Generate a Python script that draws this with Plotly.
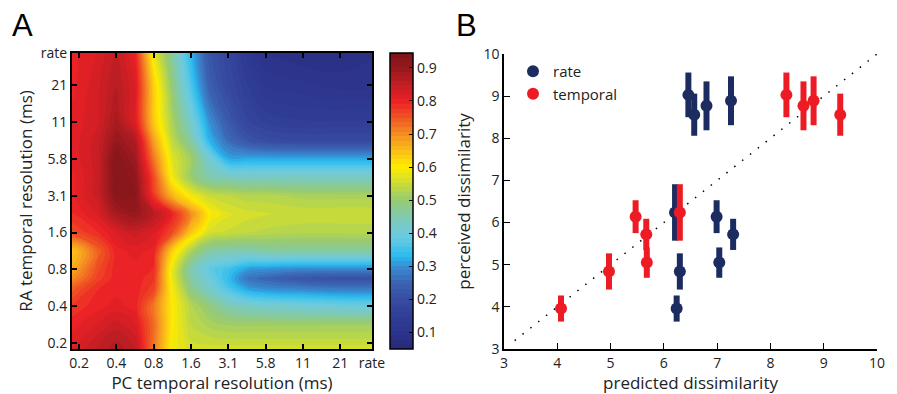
import plotly.graph_objects as go

# ---------------- Panel A data ----------------
res_labels = ['0.2', '0.4', '0.8', '1.6', '3.1', '5.8', '11', '21', 'rate']
res_pos = [0, 1, 2, 3, 4, 5, 6, 7, 7.85]          # tick index positions (x)
res_pos_y = [0, 1, 2, 3, 4, 5, 6, 7, 7.87]        # tick index positions (y)

# grid positions (in tick-index units) where the map was read
pc_grid = [-0.19, 0.5, 1, 1.5, 2, 2.5, 3, 3.5, 4, 4.5, 5, 6, 7, 7.85]
ra_grid = [-0.16, 0.5, 1, 1.5, 1.75, 2, 2.5, 3, 3.5, 4, 4.5, 5, 5.5, 6, 7, 7.87]

# classification performance (rows = RA resolution, bottom -> top)
perf = [
    [0.82, 0.85, 0.87, 0.85, 0.72, 0.59, 0.56, 0.56, 0.56, 0.56, 0.56, 0.56, 0.56, 0.56],
    [0.80, 0.82, 0.84, 0.82, 0.73, 0.60, 0.54, 0.52, 0.51, 0.51, 0.51, 0.51, 0.51, 0.51],
    [0.78, 0.80, 0.81, 0.80, 0.72, 0.60, 0.53, 0.49, 0.45, 0.43, 0.42, 0.41, 0.40, 0.40],
    [0.74, 0.79, 0.80, 0.80, 0.77, 0.59, 0.48, 0.42, 0.36, 0.31, 0.29, 0.28, 0.27, 0.27],
    [0.70, 0.77, 0.80, 0.80, 0.78, 0.58, 0.46, 0.40, 0.34, 0.27, 0.25, 0.22, 0.21, 0.21],
    [0.67, 0.76, 0.80, 0.80, 0.79, 0.58, 0.45, 0.38, 0.35, 0.31, 0.30, 0.29, 0.29, 0.29],
    [0.64, 0.74, 0.80, 0.81, 0.80, 0.63, 0.52, 0.46, 0.45, 0.45, 0.46, 0.46, 0.46, 0.46],
    [0.76, 0.79, 0.82, 0.84, 0.82, 0.76, 0.64, 0.56, 0.55, 0.54, 0.535, 0.53, 0.53, 0.53],
    [0.79, 0.82, 0.88, 0.90, 0.86, 0.80, 0.70, 0.60, 0.57, 0.56, 0.555, 0.55, 0.55, 0.55],
    [0.80, 0.84, 0.92, 0.92, 0.78, 0.66, 0.59, 0.55, 0.54, 0.53, 0.53, 0.52, 0.52, 0.52],
    [0.80, 0.84, 0.93, 0.91, 0.76, 0.59, 0.50, 0.45, 0.44, 0.43, 0.43, 0.43, 0.43, 0.43],
    [0.81, 0.84, 0.93, 0.89, 0.72, 0.57, 0.51, 0.41, 0.32, 0.32, 0.32, 0.32, 0.32, 0.32],
    [0.81, 0.84, 0.90, 0.87, 0.68, 0.54, 0.46, 0.33, 0.26, 0.22, 0.20, 0.19, 0.19, 0.19],
    [0.81, 0.83, 0.88, 0.82, 0.64, 0.52, 0.42, 0.30, 0.23, 0.18, 0.16, 0.15, 0.15, 0.15],
    [0.80, 0.83, 0.86, 0.82, 0.63, 0.49, 0.36, 0.24, 0.19, 0.15, 0.12, 0.11, 0.10, 0.10],
    [0.80, 0.82, 0.85, 0.80, 0.58, 0.46, 0.33, 0.22, 0.18, 0.13, 0.09, 0.08, 0.08, 0.09],
]
cbar_ticks = [0.1, 0.2, 0.3, 0.4, 0.5, 0.6, 0.7, 0.8, 0.9]
zmin, zmax = 0.05, 0.945

# ---------------- Panel B data ----------------
perceived = [9.03, 8.56, 8.77, 8.89, 6.24, 6.14, 5.72, 4.84, 5.05, 3.96]
perceived_err = [0.53, 0.50, 0.58, 0.58, 0.67, 0.39, 0.37, 0.43, 0.36, 0.31]
pred_rate = [6.46, 6.57, 6.80, 7.26, 6.21, 6.99, 7.30, 6.30, 7.04, 6.24]
pred_temporal = [8.30, 9.31, 8.62, 8.81, 6.30, 5.47, 5.67, 4.97, 5.68, 4.07]
identity = [3.2, 10]
b_ticks = [3, 4, 5, 6, 7, 8, 9, 10]

NAVY = '#1c2b60'
RED = '#ed1c24'
FONT = 'Open Sans'

def cs(v):
    return (v - zmin) / (zmax - zmin)

colorscale = [
    [0.0, 'rgb(38,42,120)'],
    [cs(0.10), 'rgb(44,52,140)'],
    [cs(0.15), 'rgb(48,62,150)'],
    [cs(0.20), 'rgb(55,76,162)'],
    [cs(0.25), 'rgb(60,100,178)'],
    [cs(0.30), 'rgb(56,142,212)'],
    [cs(0.33), 'rgb(40,186,238)'],
    [cs(0.37), 'rgb(88,200,230)'],
    [cs(0.40), 'rgb(112,202,220)'],
    [cs(0.45), 'rgb(128,202,176)'],
    [cs(0.50), 'rgb(152,202,112)'],
    [cs(0.55), 'rgb(202,220,55)'],
    [cs(0.60), 'rgb(255,235,0)'],
    [cs(0.65), 'rgb(250,190,25)'],
    [cs(0.70), 'rgb(245,140,35)'],
    [cs(0.75), 'rgb(240,85,35)'],
    [cs(0.80), 'rgb(235,32,38)'],
    [cs(0.85), 'rgb(192,30,35)'],
    [cs(0.90), 'rgb(150,25,30)'],
    [1.0, 'rgb(125,22,25)'],
]

W, H = 897, 394
def px(x):
    return x / W
def py(y):
    return 1 - y / H

fig = go.Figure()

fig.add_trace(go.Contour(
    x=pc_grid, y=ra_grid, z=perf,
    colorscale=colorscale, zmin=zmin, zmax=zmax,
    contours=dict(start=zmin, end=zmax, size=(zmax - zmin) / 64, coloring='fill'),
    line=dict(width=0, smoothing=1.3),
    xaxis='x', yaxis='y',
    colorbar=dict(
        x=px(390), xanchor='left', xpad=0,
        y=py(201), yanchor='middle', ypad=0,
        len=296, lenmode='pixels', thickness=23,
        outlinewidth=1.5, outlinecolor='black',
        tickvals=cbar_ticks, ticks='inside', ticklen=4, tickcolor='black',
        tickfont=dict(family=FONT, size=14, color='#222'),
    ),
    showlegend=False,
))

# Panel B
fig.add_trace(go.Scatter(
    x=identity, y=identity, mode='lines',
    line=dict(color='black', width=1.5, dash='1.5px,8.5px'),
    xaxis='x2', yaxis='y2', showlegend=False, hoverinfo='skip',
))
fig.add_trace(go.Scatter(
    x=pred_rate, y=perceived, mode='markers', name='rate',
    marker=dict(color=NAVY, size=12),
    error_y=dict(type='data', array=perceived_err, color=NAVY, thickness=6, width=0),
    xaxis='x2', yaxis='y2',
))
fig.add_trace(go.Scatter(
    x=pred_temporal, y=perceived, mode='markers', name='temporal',
    marker=dict(color=RED, size=12),
    error_y=dict(type='data', array=perceived_err, color=RED, thickness=6, width=0),
    xaxis='x2', yaxis='y2',
))

tickfont = dict(family=FONT, size=14, color='#222')
titlefont = dict(family=FONT, size=17, color='#222')

fig.update_layout(
    width=W, height=H,
    margin=dict(l=0, r=0, t=0, b=0, autoexpand=False),
    paper_bgcolor='white', plot_bgcolor='white',
    xaxis=dict(
        domain=[px(72), px(372)], range=[pc_grid[0], pc_grid[-1]],
        tickvals=res_pos, ticktext=res_labels,
        showline=True, linewidth=2, linecolor='black', mirror='ticks',
        ticks='inside', ticklen=5, tickwidth=1.5, tickcolor='black',
        showgrid=False, zeroline=False, tickfont=tickfont, automargin=False,
        title=dict(text='PC temporal resolution (ms)', font=titlefont, standoff=4),
        anchor='y',
    ),
    yaxis=dict(
        domain=[py(349), py(53)], range=[ra_grid[0], ra_grid[-1]],
        tickvals=res_pos_y, ticktext=res_labels,
        showline=True, linewidth=2, linecolor='black', mirror='ticks',
        ticks='inside', ticklen=5, tickwidth=1.5, tickcolor='black',
        showgrid=False, zeroline=False, tickfont=tickfont, automargin=False,
        title=dict(text='RA temporal resolution (ms)', font=titlefont, standoff=4),
        anchor='x',
    ),
    xaxis2=dict(
        domain=[px(504), px(877)], range=[3, 10],
        tickvals=b_ticks,
        showline=True, linewidth=1.5, linecolor='black',
        ticks='inside', ticklen=6, tickwidth=1.2, tickcolor='black',
        showgrid=False, zeroline=False, tickfont=tickfont, automargin=False,
        title=dict(text='predicted dissimilarity', font=titlefont, standoff=4),
        anchor='y2',
    ),
    yaxis2=dict(
        domain=[py(349), py(54)], range=[3, 10],
        tickvals=b_ticks,
        showline=True, linewidth=1.5, linecolor='black',
        ticks='inside', ticklen=6, tickwidth=1.2, tickcolor='black',
        showgrid=False, zeroline=False, tickfont=tickfont, automargin=False,
        title=dict(text='perceived dissimilarity', font=titlefont, standoff=8),
        anchor='x2',
    ),
    legend=dict(
        x=px(513), y=py(55), xanchor='left', yanchor='top',
        bgcolor='rgba(0,0,0,0)', borderwidth=0,
        font=dict(family=FONT, size=15, color='#222'),
        itemwidth=30, tracegroupgap=0,
    ),
    annotations=[
        dict(text='A', x=px(10), y=py(6), xref='paper', yref='paper',
             xanchor='left', yanchor='top', showarrow=False,
             font=dict(family='Liberation Sans', size=31, color='black')),
        dict(text='B', x=px(454), y=py(6), xref='paper', yref='paper',
             xanchor='left', yanchor='top', showarrow=False,
             font=dict(family='Liberation Sans', size=31, color='black')),
    ],
)

fig.write_html('out.html')
